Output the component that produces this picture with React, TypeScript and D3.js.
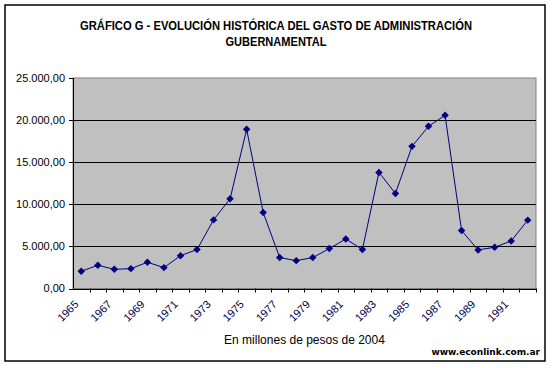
import React from "react";
import * as d3 from "d3";

// Gasto de administración gubernamental, millones de pesos de 2004
const years = [
  1965, 1966, 1967, 1968, 1969, 1970, 1971, 1972, 1973, 1974, 1975, 1976, 1977, 1978,
  1979, 1980, 1981, 1982, 1983, 1984, 1985, 1986, 1987, 1988, 1989, 1990, 1991, 1992,
];
const gasto = [
  2050, 2760, 2280, 2360, 3120, 2480, 3900, 4620, 8150, 10650, 18900, 9030, 3670, 3310,
  3670, 4740, 5890, 4620, 13790, 11290, 16880, 19260, 20570, 6880, 4580, 4900, 5650, 8120,
];
const yTicks = [0, 5000, 10000, 15000, 20000, 25000];
const titleLines = [
  "GRÁFICO G - EVOLUCIÓN HISTÓRICA DEL GASTO DE ADMINISTRACIÓN",
  "GUBERNAMENTAL",
];
const axisTitle = "En millones de pesos de 2004";
const source = "www.econlink.com.ar";

const W = 553;
const H = 368;
const plot = { left: 73, right: 536, top: 78, bottom: 288.5 };

const fmt = (v: number) => {
  const s = d3.format(",.2f")(v);
  return s.replace(/,/g, "#").replace(".", ",").replace(/#/g, ".");
};

export default function App() {
  const x = d3
    .scaleBand<number>()
    .domain(years)
    .range([plot.left, plot.right])
    .padding(0);
  const y = d3.scaleLinear().domain([0, 25000]).range([plot.bottom, plot.top]);

  const line = d3
    .line<number>()
    .x((_, i) => x(years[i])! + x.bandwidth() / 2)
    .y((d) => y(d));

  const marker = d3.symbol().type(d3.symbolSquare).size(28)()!;
  const crisp = (v: number) => Math.round(v) + 0.5;
  const font = "'Liberation Sans', Arial, sans-serif";

  return (
    <svg
      width={W}
      height={H}
      style={{ position: "absolute", left: 0, top: 0, background: "#fff" }}
      fontFamily={font}
    >
      <rect x={5} y={5} width={540} height={356} fill="#fff" stroke="#000" strokeWidth={1.5} />

      {titleLines.map((t, i) => (
        <text
          key={i}
          x={276}
          y={30 + i * 16}
          textAnchor="middle"
          fontSize={12}
          fontWeight="bold"
          fill="#000"
          textLength={i === 0 ? 392 : 101}
          lengthAdjust="spacingAndGlyphs"
        >
          {t}
        </text>
      ))}

      <rect
        x={plot.left}
        y={plot.top}
        width={plot.right - plot.left}
        height={plot.bottom - plot.top}
        fill="#c0c0c0"
        stroke="#808080"
        strokeWidth={1}
      />

      {yTicks.slice(1, -1).map((t) => (
        <line
          key={t}
          x1={plot.left}
          x2={plot.right}
          y1={crisp(y(t))}
          y2={crisp(y(t))}
          stroke="#000"
          strokeWidth={1}
        />
      ))}

      {/* y axis */}
      <line x1={crisp(plot.left)} x2={crisp(plot.left)} y1={plot.top} y2={plot.bottom} stroke="#000" />
      {yTicks.map((t) => (
        <g key={t}>
          <line x1={plot.left - 4} x2={plot.left} y1={crisp(y(t))} y2={crisp(y(t))} stroke="#000" />
          <text x={65} y={y(t)} dy="0.35em" textAnchor="end" fontSize={11} fill="#000">
            {fmt(t)}
          </text>
        </g>
      ))}

      {/* x axis */}
      <line x1={plot.left} x2={plot.right} y1={crisp(plot.bottom)} y2={crisp(plot.bottom)} stroke="#000" />
      {years.map((yr) => (
        <line
          key={yr}
          x1={crisp(x(yr)! + x.bandwidth())}
          x2={crisp(x(yr)! + x.bandwidth())}
          y1={plot.bottom}
          y2={plot.bottom + 4}
          stroke="#000"
        />
      ))}
      {years
        .filter((_, i) => i % 2 === 0)
        .map((yr) => {
          const cx = x(yr)! + x.bandwidth() / 2;
          return (
            <text
              key={yr}
              transform={`translate(${cx - 2},${305}) rotate(-45)`}
              textAnchor="end"
              fontSize={11}
              fill="#000050"
            >
              {yr}
            </text>
          );
        })}

      <path d={line(gasto) ?? ""} fill="none" stroke="#000080" strokeWidth={1} />
      {gasto.map((v, i) => (
        <path
          key={i}
          d={marker}
          transform={`translate(${x(years[i])! + x.bandwidth() / 2},${y(v)}) rotate(45)`}
          fill="#000080"
        />
      ))}

      <text
        x={(plot.left + plot.right) / 2}
        y={344}
        textAnchor="middle"
        fontSize={12}
        fill="#000"
      >
        {axisTitle}
      </text>
      <text
        x={540}
        y={355}
        textAnchor="end"
        fontSize={9}
        fontWeight="bold"
        fontFamily="'DejaVu Sans', sans-serif"
        fill="#000"
      >
        {source}
      </text>
    </svg>
  );
}
